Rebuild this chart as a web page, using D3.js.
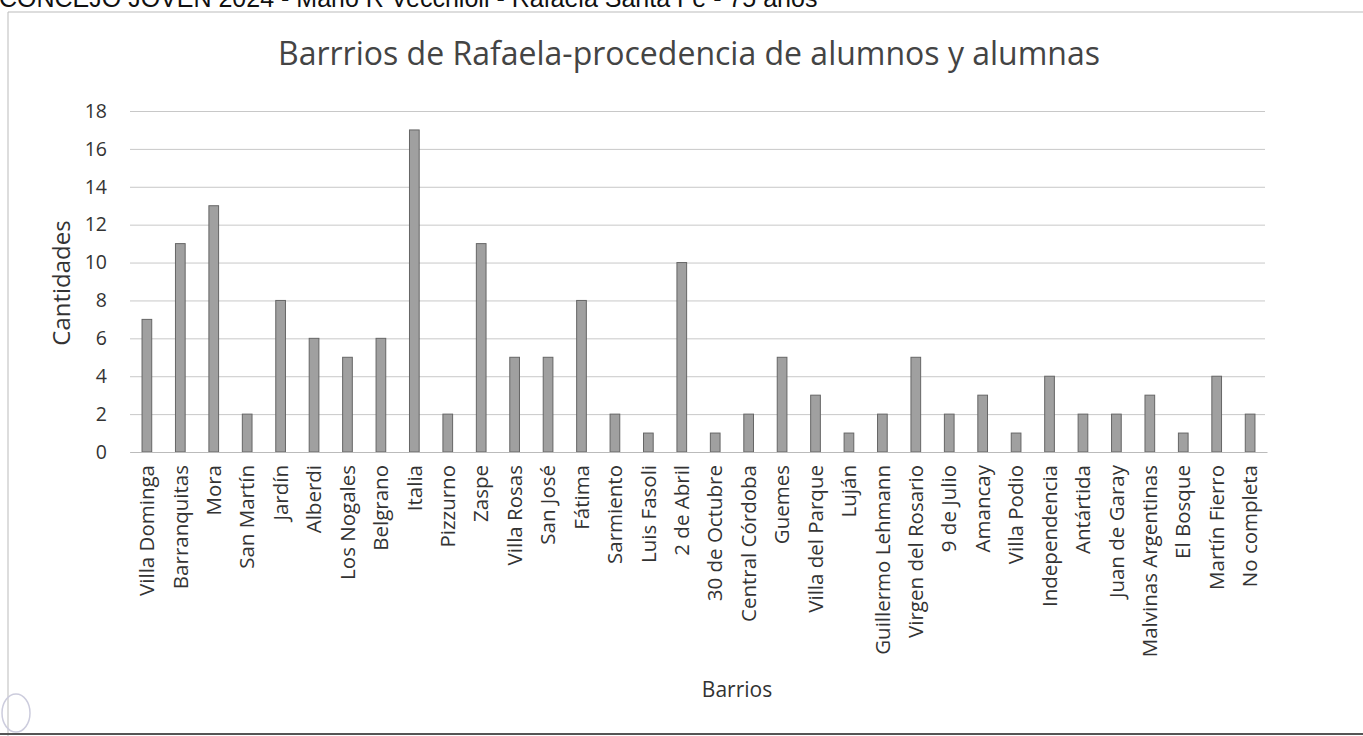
<!DOCTYPE html>
<html>
<head>
<meta charset="utf-8">
<script src="https://cdn.jsdelivr.net/npm/d3@7"></script>
<style>
  body { margin: 0; background: #fff; }
  text { font-family: "Open Sans", "Noto Sans", sans-serif; }
</style>
</head>
<body>
<div id="viz"></div>
<script>
// barrios y cantidades
var barrios = ["Villa Dominga", "Barranquitas", "Mora", "San Martín", "Jardín", "Alberdi",
    "Los Nogales", "Belgrano", "Italia", "Pizzurno", "Zaspe", "Villa Rosas", "San José",
    "Fátima", "Sarmiento", "Luis Fasoli", "2 de Abril", "30 de Octubre", "Central Córdoba",
    "Guemes", "Villa del Parque", "Luján", "Guillermo Lehmann", "Virgen del Rosario",
    "9 de Julio", "Amancay", "Villa Podio", "Independencia", "Antártida", "Juan de Garay",
    "Malvinas Argentinas", "El Bosque", "Martín Fierro", "No completa"];
var cantidades = [7, 11, 13, 2, 8, 6, 5, 6, 17, 2, 11, 5, 5, 8, 2, 1, 10, 1, 2, 5, 3, 1, 2, 5,
    2, 3, 1, 4, 2, 2, 3, 1, 4, 2];
var yTicks = [0, 2, 4, 6, 8, 10, 12, 14, 16, 18];

var W = 1363, H = 736;
var margin = {top: 111, right: 100, bottom: 284, left: 130};
var width = W - margin.left - margin.right,
    height = H - margin.top - margin.bottom;

var svg = d3.select('#viz').append('svg')
    .attr("width", W)
    .attr("height", H);

// encabezado de la hoja escaneada (cortado arriba)
svg.append("text")
    .attr("x", -1).attr("y", 7)
    .style("font-family", "'Liberation Sans', Arial, sans-serif")
    .style("font-size", "25px")
    .attr("fill", "#111")
    .text("CONCEJO JOVEN 2024 - Mario R Vecchioli - Rafaela Santa Fe - 75 años");

svg.append("line").attr("x1", 8).attr("x2", W).attr("y1", 12).attr("y2", 12)
    .attr("stroke", "#bbb").attr("stroke-width", 1);
svg.append("line").attr("x1", 8).attr("x2", 8).attr("y1", 12).attr("y2", H)
    .attr("stroke", "#bbb").attr("stroke-width", 1);
svg.append("line").attr("x1", 0).attr("x2", W).attr("y1", 734).attr("y2", 734)
    .attr("stroke", "#555").attr("stroke-width", 2);
svg.append("ellipse").attr("cx", 16).attr("cy", 713).attr("rx", 14).attr("ry", 19)
    .attr("fill", "none").attr("stroke", "#ccd").attr("stroke-width", 1.5);

var x = d3.scaleBand()
    .domain(barrios)
    .range([0, width + 4])
    .paddingInner(0.71)
    .paddingOuter(0.36);

var y = d3.scaleLinear()
    .domain([0, 18])
    .range([height, 0]);

var g = svg.append("g")
    .attr("transform", "translate(" + margin.left + "," + margin.top + ")");

// lineas de grilla
g.append("g")
    .attr("class", "grid")
    .call(d3.axisLeft(y).tickValues(yTicks).tickSize(-(width + 2)).tickFormat(""))
    .call(function(s) {
        s.select(".domain").remove();
        s.selectAll("line").attr("stroke", "#c8c8c8").attr("stroke-width", 1);
    });

g.selectAll("rect.bar")
    .data(cantidades)
    .enter().append("rect")
    .attr("class", "bar")
    .attr("x", function(d, i) { return x(barrios[i]); })
    .attr("width", x.bandwidth())
    .attr("y", function(d) { return y(d); })
    .attr("height", function(d) { return height - y(d); })
    .attr("fill", "#a0a0a0")
    .attr("stroke", "#666")
    .attr("stroke-width", 1);

// eje y
g.append("g")
    .call(d3.axisLeft(y).tickValues(yTicks).tickSize(0).tickPadding(23))
    .call(function(s) {
        s.select(".domain").remove();
        s.selectAll("text")
            .style("font-size", "19.5px")
            .attr("fill", "#333");
    });

// eje x
g.append("g")
    .attr("transform", "translate(0," + height + ")")
    .call(d3.axisBottom(x).tickSize(0))
    .call(function(s) {
        s.select(".domain").attr("stroke", "#bbb");
        s.selectAll("text")
            .style("font-size", "20.5px")
            .attr("fill", "#333")
            .style("text-anchor", "end")
            .attr("transform", "rotate(-90)")
            .attr("x", -13)
            .attr("y", 0)
            .attr("dy", "0.35em");
    });

svg.append("text")
    .attr("x", 689).attr("y", 65)
    .style("text-anchor", "middle")
    .style("font-size", "32px")
    .attr("fill", "#444")
    .text("Barrrios de Rafaela-procedencia de alumnos y alumnas");

svg.append("text")
    .attr("transform", "translate(70,283) rotate(-90)")
    .style("text-anchor", "middle")
    .style("font-size", "24px")
    .attr("fill", "#333")
    .text("Cantidades");

svg.append("text")
    .attr("x", 737).attr("y", 697)
    .style("text-anchor", "middle")
    .style("font-size", "21px")
    .attr("fill", "#333")
    .text("Barrios");
</script>
</body>
</html>
